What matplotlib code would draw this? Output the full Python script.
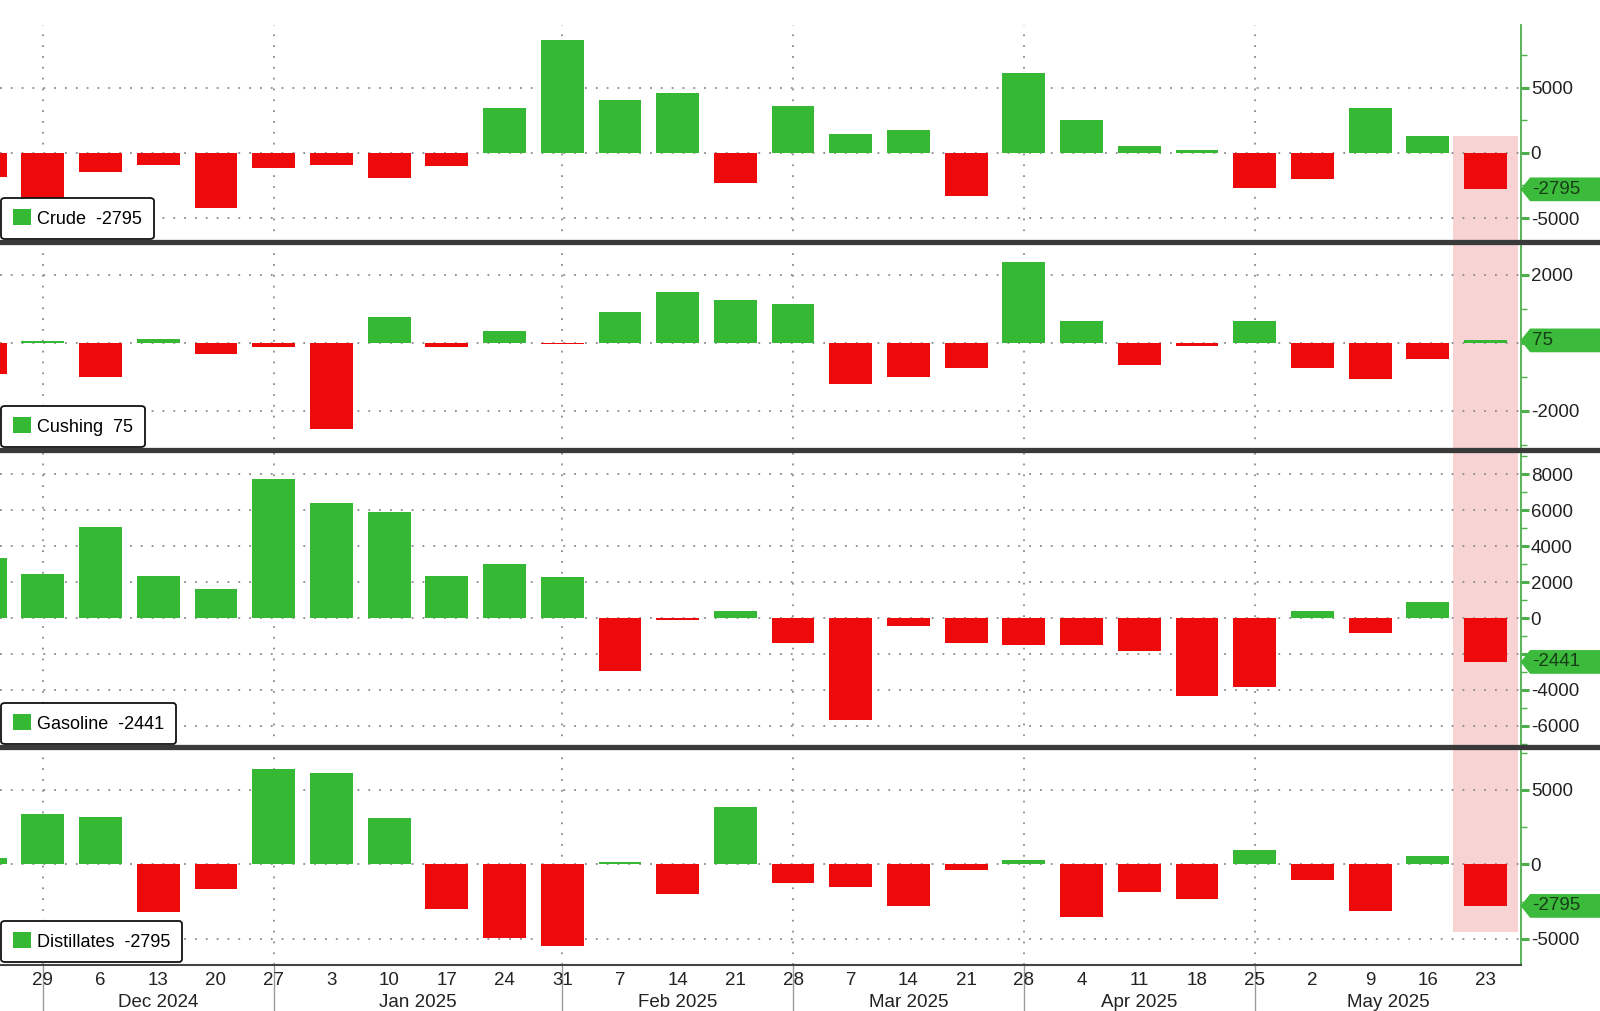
import matplotlib
matplotlib.use("Agg")
import matplotlib.pyplot as plt
import matplotlib.dates as mdates
from matplotlib.patches import Patch, Rectangle
from matplotlib.lines import Line2D
from matplotlib.path import Path
from matplotlib.ticker import MultipleLocator
from matplotlib import transforms
import pandas as pd

plt.rcParams['font.family'] = ['Liberation Sans', 'DejaVu Sans']

# weekly EIA inventory changes (thousand barrels), week ending Friday
weeks = pd.date_range("2024-11-22", "2025-05-23", freq="W-FRI")
crude = [-1844, -5073, -1425, -934, -4237, -1178, -959, -1962, -1017, 3463, 8664, 4070, 4633,
         -2332, 3614, 1448, 1745, -3341, 6165, 2553, 515, 244, -2696, -2032, 3454, 1328, -2795]
cushing = [-900, 50, -1000, 130, -340, -120, -2520, 750, -130, 340, -30, 900, 1490,
           1270, 1150, -1200, -990, -730, 2390, 655, -650, -100, 655, -725, -1070, -470, 75]
gasoline = [3330, 2450, 5070, 2350, 1610, 7720, 6370, 5870, 2350, 3000, 2260, -2930, -110,
            410, -1390, -5670, -430, -1390, -1480, -1500, -1815, -4320, -3850, 370, -830, 910, -2441]
distillates = [400, 3380, 3200, -3180, -1660, 6400, 6100, 3090, -3000, -4970, -5460, 180, -2010,
               3870, -1270, -1540, -2800, -380, 290, -3510, -1830, -2330, 960, -1050, -3110, 580, -2795]

names = ["Crude", "Cushing", "Gasoline", "Distillates"]
series = [crude, cushing, gasoline, distillates]
yticks = [[-5000, 0, 5000], [-2000, 0, 2000],
          [-6000, -4000, -2000, 0, 2000, 4000, 6000, 8000], [-5000, 0, 5000]]
yminor = [2500, 1000, 1000, 2500]
ylims = [(-6845, 9840), (-3150, 2970), (-7170, 9340), (-6760, 7870)]

month_edges = pd.to_datetime(["2024-11-29", "2024-12-27", "2025-01-31",
                              "2025-02-28", "2025-03-28", "2025-04-25"])
month_names = ["Dec 2024", "Jan 2025", "Feb 2025", "Mar 2025", "Apr 2025", "May 2025"]

GREEN = '#35b935'
RED = '#ee0a0a'
BADGE = '#3cba3c'
AXIS_GREEN = '#4caf4c'
GRID = '#8a8a8a'
DOTS = (0, (1, 5))


def badge_box(x0, y0, width, height, mutation_size):
    # flat pentagon pointing left, stretched to the right edge
    pad = 0.18 * mutation_size
    x0, y0 = x0 - pad * 0.6, y0 - pad
    height = height + 2 * pad
    tip = 0.4 * height
    x1 = x0 + width + 2 * pad + 3 * mutation_size
    verts = [(x0 - tip, y0 + height / 2), (x0, y0 + height), (x1, y0 + height),
             (x1, y0), (x0, y0), (x0 - tip, y0 + height / 2)]
    codes = [Path.MOVETO] + [Path.LINETO] * 4 + [Path.CLOSEPOLY]
    return Path(verts, codes)


x = mdates.date2num(weeks)
edges_x = mdates.date2num(month_edges)
x0 = x[1] - 5.2
x1 = x[-1] + 4.3

W, H = 1600, 1011
fig = plt.figure(figsize=(W / 100, H / 100), dpi=100)
rows = [25, 242, 450, 747, 965]
right = 1521 / W

axes = []
for i in range(4):
    top, bot = rows[i], rows[i + 1]
    ax = fig.add_axes([0, 1 - bot / H, right, (bot - top) / H])
    axes.append(ax)
    vals = series[i]
    cols = [GREEN if v >= 0 else RED for v in vals]
    ax.bar(x, vals, width=5.2, color=cols, zorder=3)
    ax.set_xlim(x0, x1)
    ax.set_ylim(*ylims[i])
    ax.set_facecolor('none')

    ax.yaxis.tick_right()
    last = vals[-1]
    span = ylims[i][1] - ylims[i][0]
    labels = ['' if abs(t - last) < 0.07 * span else str(t) for t in yticks[i]]
    ax.set_yticks(yticks[i], labels=labels)
    ax.yaxis.set_minor_locator(MultipleLocator(yminor[i]))
    ax.tick_params(axis='y', which='major', color=AXIS_GREEN, labelcolor='#222222',
                   length=6, width=2.2, labelsize=13.5, pad=1)
    ax.tick_params(axis='y', which='minor', color=AXIS_GREEN, length=4, width=1)
    for s in ['left', 'top', 'bottom']:
        ax.spines[s].set_visible(False)
    ax.spines['right'].set_color(AXIS_GREEN)
    ax.spines['right'].set_linewidth(1.3)

    ax.grid(axis='y', which='major', linestyle=DOTS, color=GRID, linewidth=1.3, zorder=1)
    for e in edges_x:
        ax.axvline(e, linestyle=DOTS, color=GRID, linewidth=1.3, zorder=1)

    # latest value badge on the right axis
    ax.annotate(f"{last}", xy=(1, last), xycoords=ax.get_yaxis_transform(),
                xytext=(8, 0), textcoords='offset points', ha='left', va='center',
                fontsize=13.5, color='#173d17', annotation_clip=False, zorder=6,
                bbox=dict(boxstyle=badge_box, fc=BADGE, ec='none'))

    leg = ax.legend(handles=[Patch(facecolor=GREEN, edgecolor='none')],
                    labels=[f"{names[i]}  {last}"], loc='lower left',
                    bbox_to_anchor=(-0.001, 0), borderaxespad=0.15, fontsize=13,
                    frameon=True, fancybox=True, edgecolor='#111111', framealpha=1,
                    handlelength=1.0, handleheight=1.0, handletextpad=0.35,
                    borderpad=0.65)
    leg.get_frame().set_linewidth(1.3)
    leg.set_zorder(7)

    if i < 3:
        ax.set_xticks([])

ax4 = axes[-1]
ax4.set_xticks(x[1:], labels=[str(d.day) for d in weeks[1:]])
ax4.tick_params(axis='x', length=0, pad=5, labelsize=13.5, labelcolor='#222222')
ax4.spines['bottom'].set_visible(True)
ax4.spines['bottom'].set_color('#444444')
ax4.spines['bottom'].set_linewidth(1.5)

# month labels and separators below the axis
mids = [(a + b) / 2 for a, b in zip(edges_x, list(edges_x[1:]) + [x1])]
sec = ax4.secondary_xaxis('bottom')
sec.set_xticks(edges_x, labels=[''] * len(edges_x))
sec.tick_params(axis='x', which='major', length=40, width=1, color='#9a9a9a')
sec.set_xticks(mids, labels=month_names, minor=True)
sec.tick_params(axis='x', which='minor', length=0, pad=21, labelsize=13.5, labelcolor='#222222')
sec.spines['bottom'].set_visible(False)

# panel separators
for r in rows[1:4]:
    fig.add_artist(Line2D([0, 1], [1 - r / H] * 2, color='#3a3a3a', linewidth=3.8,
                          transform=fig.transFigure, zorder=5))

# highlight of the latest week
trans = transforms.blended_transform_factory(ax4.transData, fig.transFigure)
fig.add_artist(Rectangle((x[-1] - 3.95, 1 - 932 / H), 7.9, (932 - 136) / H,
                         transform=trans, facecolor='#f7cccc', alpha=0.85,
                         edgecolor='none', zorder=-1))

fig.savefig("out.png", dpi=100, facecolor='white')
